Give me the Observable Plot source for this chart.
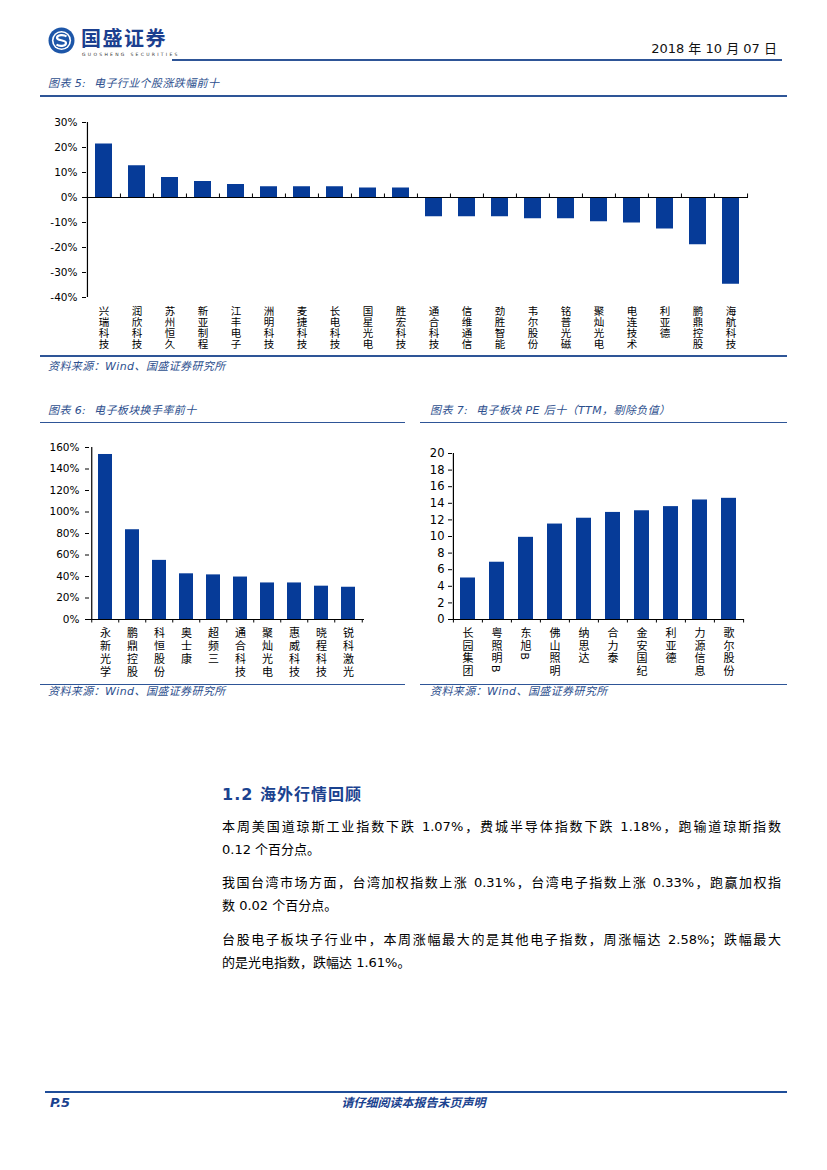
<!DOCTYPE html>
<html><head><meta charset="utf-8">
<script src="https://cdn.jsdelivr.net/npm/d3@7"></script>
<script src="https://cdn.jsdelivr.net/npm/@observablehq/plot@0.6"></script>
<style>
body{margin:0;background:#fff;}
#page{position:relative;width:827px;height:1170px;background:#fff;font-family:"DejaVu Sans","Noto Sans CJK SC",sans-serif;overflow:hidden;color:#000;}
.abs{position:absolute;white-space:nowrap;}
.rule{position:absolute;background:#2e5597;}
.ctitle{position:absolute;white-space:nowrap;font-style:italic;color:#2d4f8e;font-size:11px;line-height:14px;letter-spacing:0.4px;}
.para{position:absolute;left:222px;width:559px;font-size:13px;line-height:18px;}
.j{text-align:justify;text-align-last:justify;}
.chart{position:absolute;}
</style>
</head><body>
<div id="page">
  <svg class="abs" style="left:48px;top:27px" width="27" height="27" viewBox="0 0 27 27">
    <circle cx="13.5" cy="13.5" r="13" fill="#1d56a8"/>
    <circle cx="13.5" cy="13.5" r="9.6" fill="#fff"/>
    <circle cx="13.5" cy="13.5" r="8" fill="#1d56a8"/>
    <path d="M18.5 9.5 C16 7.5 9 7.5 9 11 C9 14 18 12.5 18 16 C18 19.5 11 19.5 8.5 17.5" fill="none" stroke="#fff" stroke-width="2.2"/>
  </svg>
  <div class="abs" style="left:81px;top:26px;font-size:20px;line-height:24px;font-weight:bold;color:#1b3f8f;letter-spacing:1.5px;font-family:'Noto Sans CJK SC'">国盛证券</div>
  <div class="abs" style="left:82px;top:52px;font-size:4.5px;line-height:5px;letter-spacing:2.3px;color:#333">GUOSHENG SECURITIES</div>
  <div class="abs" style="right:50px;top:40px;font-size:13px;line-height:18px;color:#111">2018 年 10 月 07 日</div>
  <div class="rule" style="left:172px;top:59px;width:610px;height:2px"></div>

  <div class="ctitle" style="left:48px;top:77px">图表 5:&nbsp; 电子行业个股涨跌幅前十</div>
  <div class="rule" style="left:40px;top:95px;width:747px;height:1.5px"></div>
  <div id="c5" class="chart" style="left:40px;top:110px"></div>
  <div class="rule" style="left:40px;top:355px;width:747px;height:1.5px"></div>
  <div class="ctitle" style="left:48px;top:360px">资料来源：Wind、国盛证券研究所</div>

  <div class="ctitle" style="left:48px;top:404px">图表 6:&nbsp; 电子板块换手率前十</div>
  <div class="rule" style="left:40px;top:421.5px;width:365px;height:1.5px"></div>
  <div id="c6" class="chart" style="left:40px;top:430px"></div>
  <div class="rule" style="left:40px;top:683.5px;width:365px;height:1.5px"></div>
  <div class="ctitle" style="left:48px;top:685px">资料来源：Wind、国盛证券研究所</div>

  <div class="ctitle" style="left:430px;top:404px">图表 7:&nbsp; 电子板块 PE 后十（TTM，剔除负值）</div>
  <div class="rule" style="left:420px;top:421.5px;width:367px;height:1.5px"></div>
  <div id="c7" class="chart" style="left:420px;top:430px"></div>
  <div class="rule" style="left:420px;top:683.5px;width:367px;height:1.5px"></div>
  <div class="ctitle" style="left:430px;top:685px">资料来源：Wind、国盛证券研究所</div>

  <div class="abs" style="left:222px;top:785px;font-size:16px;line-height:20px;font-weight:bold;color:#1a428f;letter-spacing:1px">1.2 海外行情回顾</div>
  <div class="para j" style="top:818px">本周美国道琼斯工业指数下跌 1.07%，费城半导体指数下跌 1.18%，跑输道琼斯指数</div>
  <div class="para" style="top:840.5px">0.12 个百分点。</div>
  <div class="para j" style="top:874px">我国台湾市场方面，台湾加权指数上涨 0.31%，台湾电子指数上涨 0.33%，跑赢加权指</div>
  <div class="para" style="top:896.5px">数 0.02 个百分点。</div>
  <div class="para j" style="top:931px">台股电子板块子行业中，本周涨幅最大的是其他电子指数，周涨幅达 2.58%；跌幅最大</div>
  <div class="para" style="top:953.5px">的是光电指数，跌幅达 1.61%。</div>

  <div class="rule" style="left:45px;top:1090.5px;width:742px;height:2.5px;background:#1f4d99"></div>
  <div class="abs" style="left:50px;top:1095px;font-size:13px;line-height:16px;font-weight:bold;font-style:italic;color:#1a428f">P.5</div>
  <div class="abs" style="left:0;width:827px;text-align:center;top:1095px;font-size:12px;line-height:16px;font-weight:bold;font-style:italic;color:#1a428f">请仔细阅读本报告末页声明</div>
</div>
<script>
// ---- data ----
const gainLossNames = ["兴瑞科技","润欣科技","苏州恒久","新亚制程","江丰电子","洲明科技","麦捷科技","长电科技","国星光电","胜宏科技","通合科技","信维通信","劲胜智能","韦尔股份","铭普光磁","聚灿光电","电连技术","利亚德","鹏鼎控股","海航科技"];
const gainLossPct = [21.4,12.7,8.0,6.4,5.2,4.3,4.3,4.3,3.8,3.8,-7.7,-7.7,-7.7,-8.5,-8.5,-9.7,-10.2,-12.6,-18.9,-34.7];
const gainLossTicks = [-40,-30,-20,-10,0,10,20,30];

const turnoverNames = ["永新光学","鹏鼎控股","科恒股份","奥士康","超频三","通合科技","聚灿光电","惠威科技","晓程科技","锐科激光"];
const turnoverPct = [153.5,83.5,55.0,42.5,41.5,39.5,34.0,34.0,31.0,30.0];
const turnoverTicks = [0,20,40,60,80,100,120,140,160];

const peNames = ["长园集团","粤照明B","东旭B","佛山照明","纳思达","合力泰","金安国纪","利亚德","力源信息","歌尔股份"];
const peValues = [5.0,6.9,9.9,11.5,12.2,12.9,13.1,13.6,14.4,14.6];
const peTicks = [0,2,4,6,8,10,12,14,16,18,20];

const barColor = "#063b98";

function drawBars(o) {
  const {names, values, ticks, fmt, width, height, ml, mr, mt, mb, yFont, yPad, xFont, xSpacing, tickDir, xPad} = o;
  const step = (width - ml - mr) / names.length;
  const rows = names.map((name, i) => ({name, value: values[i]}));
  const lo = ticks[0], hi = ticks[ticks.length - 1];
  const unitsPerPx = (hi - lo) / (height - mt - mb);
  const tlen = 3.5 * unitsPerPx * tickDir;
  const svg = Plot.plot({
    width, height, marginLeft: ml, marginRight: mr, marginTop: mt, marginBottom: mb,
    style: {fontFamily: "DejaVu Sans", fontSize: yFont + "px", color: "#000", background: "transparent", overflow: "visible"},
    x: {type: "band", domain: names, paddingInner: 0.5, paddingOuter: 0.25, axis: null, label: null},
    y: {domain: [lo, hi], axis: null, label: null},
    marks: [
      Plot.barY(rows, {x: "name", y: "value", fill: barColor}),
      Plot.ruleY([0], {stroke: "#000", strokeWidth: 1.2}),
      Plot.ruleX([names[0]], {dx: -step / 2, stroke: "#000", strokeWidth: 1.2}),
      Plot.ruleX(names, {x: d => d, y1: 0, y2: tlen, dx: -step / 2, stroke: "#000"}),
      Plot.ruleX([names[names.length - 1]], {x: d => d, y1: 0, y2: tlen, dx: step / 2, stroke: "#000"}),
      Plot.axisY({ticks, tickFormat: fmt, tickSize: 4, tickPadding: yPad, fontSize: yFont, fontFamily: "DejaVu Sans", label: null}),
      Plot.axisX({tickSize: 0, tickPadding: xPad, fontSize: xFont, fontFamily: "Noto Sans CJK SC", label: null})
    ]
  });
  svg.querySelectorAll('g[aria-label="x-axis tick label"] text').forEach(t => {
    t.style.writingMode = "vertical-rl";
    t.setAttribute("text-anchor", "start");
    t.removeAttribute("y");
    t.removeAttribute("dy");
    t.style.letterSpacing = xSpacing + "px";
  });
  return svg;
}

document.getElementById("c5").append(drawBars({
  names: gainLossNames, values: gainLossPct, ticks: gainLossTicks, fmt: d => d + "%",
  width: 740, height: 245, ml: 46, mr: 32, mt: 12, mb: 58,
  yFont: 10.5, yPad: 5, xFont: 10.5, xSpacing: 0.5, tickDir: 1, xPad: 8
}));
document.getElementById("c6").append(drawBars({
  names: turnoverNames, values: turnoverPct, ticks: turnoverTicks, fmt: d => d + "%",
  width: 370, height: 254, ml: 49, mr: 46, mt: 17, mb: 65,
  yFont: 10.5, yPad: 6, xFont: 11, xSpacing: 1.8, tickDir: -1, xPad: 8
}));
document.getElementById("c7").append(drawBars({
  names: peNames, values: peValues, ticks: peTicks, fmt: d => String(d),
  width: 370, height: 254, ml: 32, mr: 46, mt: 23, mb: 65,
  yFont: 11.5, yPad: 4, xFont: 11, xSpacing: 1.5, tickDir: -1, xPad: 8
}));
</script>
</body></html>
